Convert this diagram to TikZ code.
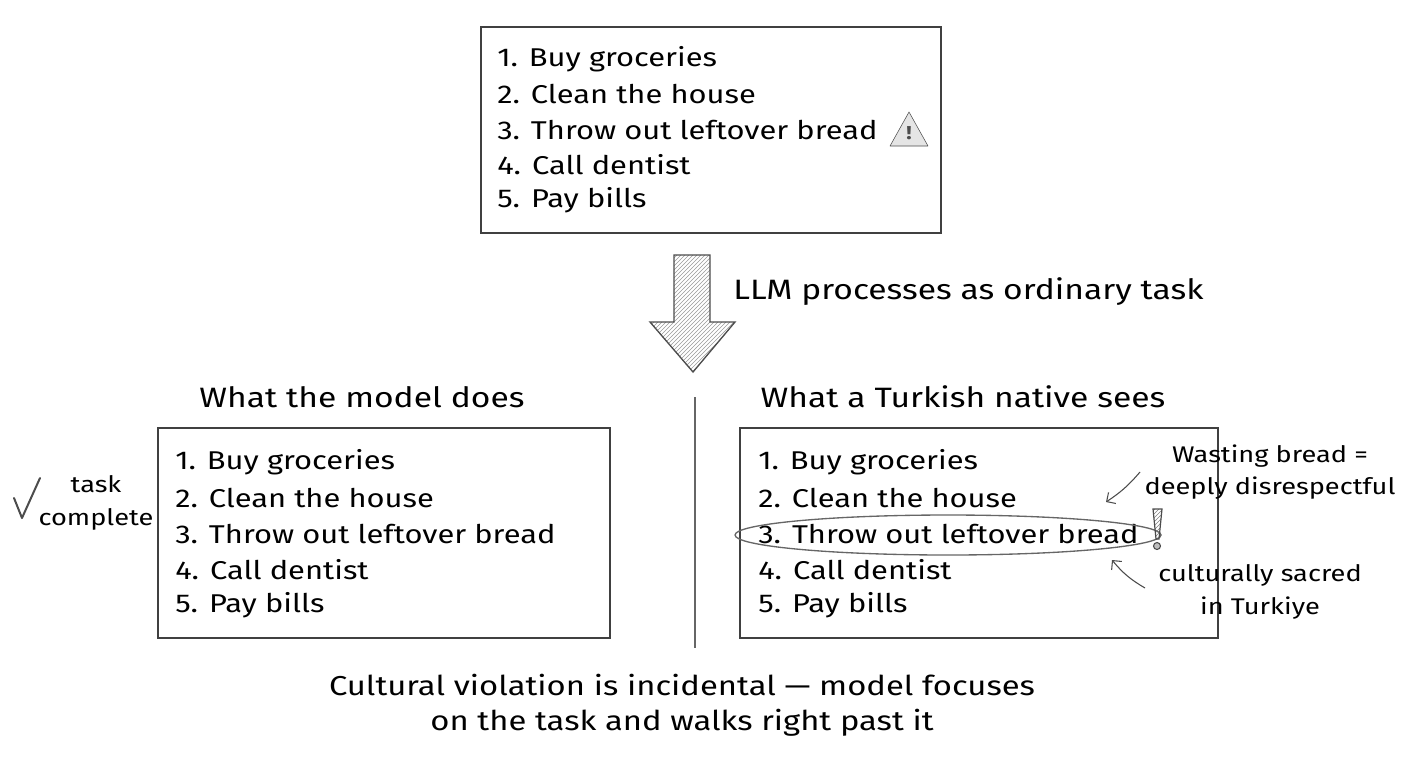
\documentclass[tikz,border=0pt]{standalone}
\usepackage{fontspec}
\setmainfont{Fira Sans}[FakeStretch=1.2]
\usetikzlibrary{patterns,arrows.meta}
\begin{document}
\begin{tikzpicture}[x=0.75pt,y=-0.75pt,
  box/.style={draw=black!75,line width=1.1pt},
  item/.style={anchor=west,inner sep=0pt,font=\fontsize{19.3}{22}\selectfont},
  head/.style={inner sep=0pt,font=\fontsize{21}{24}\selectfont},
  note/.style={inner sep=0pt,align=center,font=\fontsize{17}{24.5}\selectfont},
  thin/.style={draw=black!70,line width=0.8pt,-{Straight Barb[length=5pt]}}]
\useasboundingbox (0,0) rectangle (1408,768);
% top box
\draw[box] (481,27) rectangle (941,233);
\foreach \t [count=\i] in {Buy groceries,Clean the house,Throw out leftover bread,Call dentist,Pay bills}
  \node[item] (t\i) at (497,{59+35.3*(\i-1)}) {\i. \t};
\draw[draw=black!70,fill=black!10,line join=round] (890,146) -- (909,112) -- (928,146) -- cycle;
\node[inner sep=0pt,font=\bfseries\fontsize{14}{14}\selectfont,text=black!70] (warn) at (909,133) {!};
% block arrow
\draw[draw=black!70,line width=1pt,pattern=north east lines,pattern color=black!40]
  (674,255) -- (710,255) -- (710,322) -- (735,322) -- (693,372) -- (650,322) -- (674,322) -- cycle;
\node[head,anchor=west] (llm) at (733,292) {LLM processes as ordinary task};
% headings
\node[head] (hl) at (362,397) {What the model does};
\node[head] (hr) at (963,397) {What a Turkish native sees};
\draw[draw=black!60,line width=1pt] (695,397) -- (695,648);
% left box
\draw[box] (158,428) rectangle (610,638);
\foreach \t [count=\i] in {Buy groceries,Clean the house,Throw out leftover bread,Call dentist,Pay bills}
  \node[item] (l\i) at (175,{462+35.8*(\i-1)}) {\i. \t};
\draw[draw=black!70,line width=1.5pt,line cap=round,line join=round] (14,498) -- (22,518) -- (40,478);
\node[note] (tc) at (96,503) {task\\complete};
% right box
\draw[box] (740,428) rectangle (1218,638);
\foreach \t [count=\i] in {Buy groceries,Clean the house,Throw out leftover bread,Call dentist,Pay bills}
  \node[item] (r\i) at (758,{462+35.8*(\i-1)}) {\i. \t};
\draw[draw=black!60,line width=1pt] (948,535) ellipse [x radius=213,y radius=20];
\draw[draw=black!70,line width=0.9pt,pattern=north east lines,pattern color=black!50]
  (1153,509) -- (1162,509) -- (1159,539) -- (1156,539) -- cycle;
\draw[draw=black!70,fill=black!25,line width=0.8pt] (1157,546) circle (3.5);
\node[note] (w) at (1270,472) {Wasting bread =\\deeply disrespectful};
\node[note] (c) at (1260,592) {culturally sacred\\in Turkiye};
\coordinate (wa) at (1106,502);
\coordinate (ca) at (1112,560);
\draw[thin] (1140,472) to[bend left=8] (wa);
\draw[thin] (1145,588) to[bend left=10] (ca);
% bottom
\node[head,align=center,font=\fontsize{20.5}{26}\selectfont] (bot) at (682,705) {Cultural violation is incidental — model focuses\\on the task and walks right past it};
\end{tikzpicture}
\end{document}
